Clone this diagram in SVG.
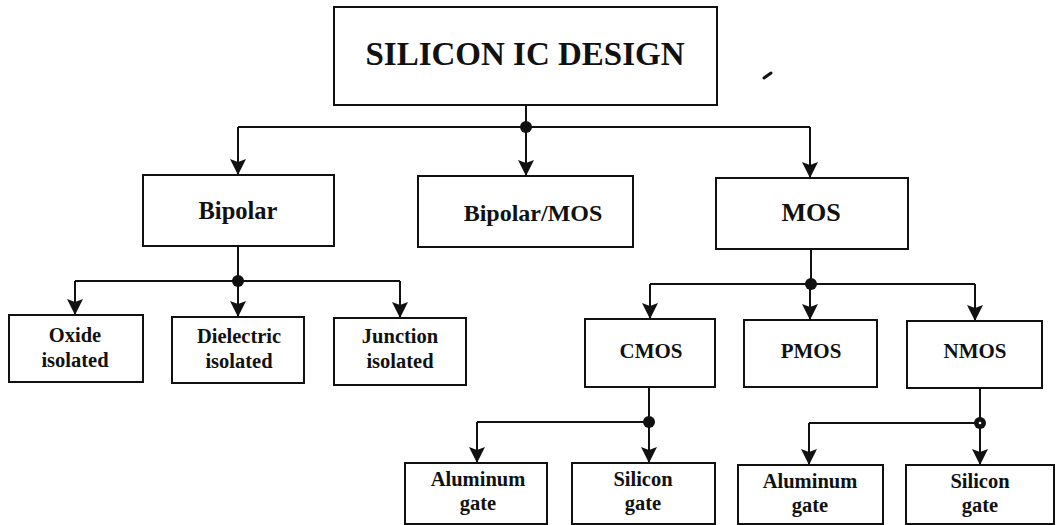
<svg xmlns="http://www.w3.org/2000/svg" width="1057" height="525" viewBox="0 0 1057 525">
  <style>
    .box { fill: #fff; stroke: #111; stroke-width: 2; }
    .lbl { font-family: "Liberation Serif", "Times New Roman", serif; font-weight: bold; fill: #111; text-anchor: middle; }
    .title { font-family: "Liberation Serif", "Times New Roman", serif; font-weight: bold; fill: #111; text-anchor: middle; font-size: 33px; }
    .l1 { font-size: 24.5px; }
    .l2 { font-size: 21px; }
    .l3 { font-size: 20.5px; }
    .wire { fill: none; stroke: #111; stroke-width: 2; }
    .arr { marker-end: url(#head); }
    .dot { fill: #111; }
  </style>
  <defs>
    <marker id="head" viewBox="0 0 16 16" refX="16" refY="8" markerWidth="16" markerHeight="16" markerUnits="userSpaceOnUse" orient="auto">
      <path d="M0,0 L16,8 L0,16 L3,8 Z" fill="#111"/>
    </marker>
  </defs>
  <rect width="1057" height="525" fill="#fff"/>

  <!-- connectors -->
  <g id="connectors">
    <!-- root to first level -->
    <path class="wire" d="M526,105 V127"/>
    <path class="wire" d="M238,127 H810"/>
    <path class="wire arr" d="M238,127 V175"/>
    <path class="wire arr" d="M526,127 V176"/>
    <path class="wire arr" d="M810,127 V178"/>
    <circle class="dot" cx="526" cy="127" r="6"/>

    <!-- Bipolar branch -->
    <path class="wire" d="M238,246 V281"/>
    <path class="wire" d="M75,281 H400"/>
    <path class="wire arr" d="M75,281 V315"/>
    <path class="wire arr" d="M238,281 V317"/>
    <path class="wire arr" d="M400,281 V318"/>
    <circle class="dot" cx="238" cy="281" r="6"/>

    <!-- MOS branch -->
    <path class="wire" d="M811,249 V284"/>
    <path class="wire" d="M650,284 H975"/>
    <path class="wire arr" d="M650,284 V319"/>
    <path class="wire arr" d="M810,284 V320"/>
    <path class="wire arr" d="M975,284 V321"/>
    <circle class="dot" cx="811" cy="284" r="6"/>

    <!-- CMOS branch -->
    <path class="wire" d="M649,387 V422"/>
    <path class="wire" d="M477,422 H649"/>
    <path class="wire arr" d="M477,422 V463"/>
    <path class="wire arr" d="M649,422 V463"/>
    <circle class="dot" cx="649" cy="422" r="6"/>

    <!-- NMOS branch -->
    <path class="wire" d="M980,388 V423"/>
    <path class="wire" d="M809,423 H980"/>
    <path class="wire arr" d="M809,423 V465"/>
    <path class="wire arr" d="M980,423 V465"/>
    <circle class="dot" cx="980" cy="423" r="6"/>
    <circle cx="980" cy="423" r="1.3" fill="#fff"/>
  </g>

  <!-- nodes -->
  <g id="root">
    <rect class="box" x="334" y="7" width="383" height="98"/>
    <text class="title" x="525" y="65">SILICON IC DESIGN</text>
  </g>

  <g id="bipolar">
    <rect class="box" x="143" y="175" width="191" height="71"/>
    <text class="lbl l1" x="238" y="219">Bipolar</text>
  </g>
  <g id="bipolar-mos">
    <rect class="box" x="418" y="176" width="215" height="71"/>
    <text class="lbl" x="533" y="221" font-size="24">Bipolar/MOS</text>
  </g>
  <g id="mos">
    <rect class="box" x="716" y="178" width="192" height="71"/>
    <text class="lbl" x="811" y="221" font-size="26">MOS</text>
  </g>

  <g id="oxide">
    <rect class="box" x="9" y="315" width="134" height="67"/>
    <text class="lbl l3" x="75" y="342">Oxide</text>
    <text class="lbl l3" x="75" y="367">isolated</text>
  </g>
  <g id="dielectric">
    <rect class="box" x="172" y="317" width="132" height="66"/>
    <text class="lbl l3" x="239" y="343">Dielectric</text>
    <text class="lbl l3" x="239" y="368">isolated</text>
  </g>
  <g id="junction">
    <rect class="box" x="334" y="318" width="132" height="67"/>
    <text class="lbl l3" x="400" y="343">Junction</text>
    <text class="lbl l3" x="400" y="368">isolated</text>
  </g>

  <g id="cmos">
    <rect class="box" x="585" y="319" width="130" height="68"/>
    <text class="lbl l2" x="651" y="358">CMOS</text>
  </g>
  <g id="pmos">
    <rect class="box" x="744" y="320" width="133" height="67"/>
    <text class="lbl l2" x="811" y="358">PMOS</text>
  </g>
  <g id="nmos">
    <rect class="box" x="907" y="321" width="135" height="67"/>
    <text class="lbl l2" x="975" y="358">NMOS</text>
  </g>

  <g id="cmos-al-gate">
    <rect class="box" x="405" y="463" width="142" height="61"/>
    <text class="lbl l3" x="478" y="486">Aluminum</text>
    <text class="lbl l3" x="478" y="510">gate</text>
  </g>
  <g id="cmos-si-gate">
    <rect class="box" x="572" y="463" width="143" height="61"/>
    <text class="lbl l3" x="643" y="486">Silicon</text>
    <text class="lbl l3" x="643" y="510">gate</text>
  </g>
  <g id="nmos-al-gate">
    <rect class="box" x="738" y="465" width="145" height="59"/>
    <text class="lbl l3" x="810" y="488">Aluminum</text>
    <text class="lbl l3" x="810" y="512">gate</text>
  </g>
  <g id="nmos-si-gate">
    <rect class="box" x="906" y="465" width="148" height="59"/>
    <text class="lbl l3" x="980" y="488">Silicon</text>
    <text class="lbl l3" x="980" y="512">gate</text>
  </g>

  <!-- small ink mark -->
  <path d="M764,78 L771,73" stroke="#111" stroke-width="3" stroke-linecap="round"/>
</svg>
